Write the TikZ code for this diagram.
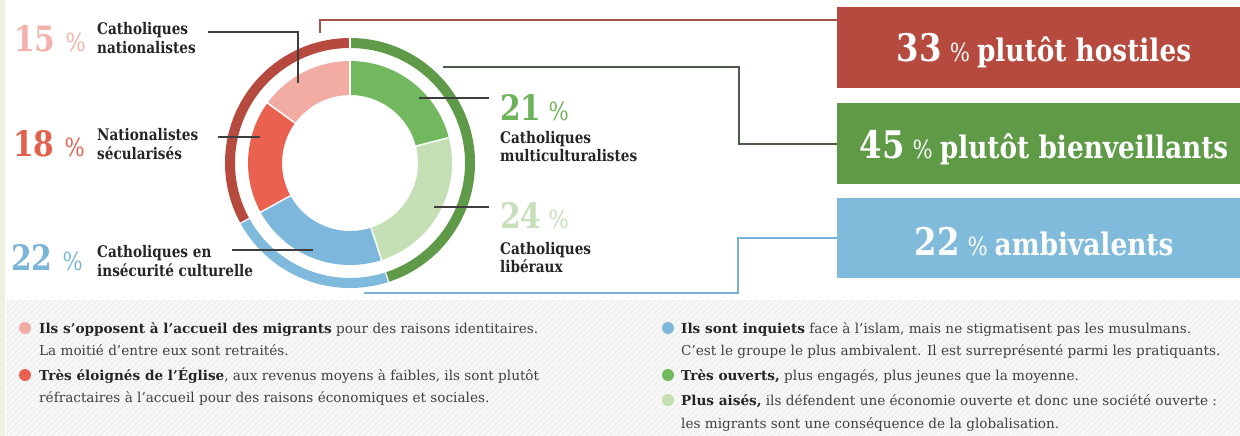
\documentclass[tikz,border=0pt]{standalone}
\usepackage{fontspec}
\setmainfont{DejaVu Serif}[FakeStretch=0.85]
\newfontfamily\rkPlain{DejaVu Serif}
\usetikzlibrary{patterns.meta}
\definecolor{ringRed}{HTML}{B64A3E}
\definecolor{ringGreen}{HTML}{5E9A48}
\definecolor{ringBlue}{HTML}{7FB9DC}
\definecolor{segPink}{HTML}{F3ACA4}
\definecolor{segRed}{HTML}{EA614F}
\definecolor{segGreen}{HTML}{72B85E}
\definecolor{segPale}{HTML}{C4DFB4}
\definecolor{segBlue}{HTML}{7DB7DC}
\definecolor{numPink}{HTML}{F2B2AA}
\definecolor{numRed}{HTML}{E2614E}
\definecolor{numBlue}{HTML}{7AB5DA}
\definecolor{numGreen}{HTML}{6EB25A}
\definecolor{numPale}{HTML}{C7E0B9}
\definecolor{boxRed}{HTML}{B64A3E}
\definecolor{boxGreen}{HTML}{5F9A47}
\definecolor{boxBlue}{HTML}{80BBDC}
\definecolor{ink}{HTML}{252525}
\definecolor{bodyink}{HTML}{404040}
\definecolor{leader}{HTML}{3E3E3E}
\definecolor{connRed}{HTML}{A65248}
\definecolor{connGreen}{HTML}{4C5A48}
\definecolor{connBlue}{HTML}{78B0D6}
\definecolor{cream}{HTML}{EEF0E2}
\newcommand\rkBigNum{\bfseries\fontsize{35}{35}\selectfont}
\newcommand\rkBigPct{\mdseries\fontsize{25}{25}\selectfont}
\newcommand\rkBoxNum{\bfseries\fontsize{38}{38}\selectfont}
\newcommand\rkBoxPct{\mdseries\fontsize{25}{25}\selectfont}
\newcommand\rkBoxWord{\bfseries\fontsize{31}{31}\selectfont}
\newcommand\rkLab{\bfseries\fontsize{16}{18}\selectfont}
\newcommand\rkBody{\rkPlain\fontsize{13.6}{16}\selectfont}
\begin{document}
\begin{tikzpicture}[x=1pt,y=1pt,
  lbl/.style={inner sep=0pt, anchor=base west, font=\rkLab, text=ink},
  txt/.style={inner sep=0pt, anchor=base west, font=\rkBody, text=bodyink},
  pctlabel/.style={inner sep=0pt, anchor=base west},
  leaderline/.style={draw=leader, line width=1.2pt},
  conn/.style={line width=1.6pt},
  bullet/.style={circle, inner sep=0pt, minimum size=12pt},
  banner/.style={inner sep=0pt, minimum width=403pt, minimum height=81pt, anchor=north west},
  bannertext/.style={inner sep=0pt, anchor=base, text=white}]
\useasboundingbox (0,0) rectangle (1240,-436);
\fill[white] (0,0) rectangle (1240,-436);
\fill[black!3] (6,-300) rectangle (1240,-436);
\fill[pattern={Lines[angle=45,distance=4pt,line width=0.9pt]}, pattern color=black!8] (6,-300) rectangle (1240,-436);
\fill[cream] (0,0) rectangle (5,-436);

% donut
\coordinate (C) at (350,-163);
\foreach \a/\b/\c in {90/14.4/segGreen, 14.4/-72/segPale, -72/-151.2/segBlue, -151.2/-216/segRed, -216/-270/segPink}
  \draw[\c, line width=34pt] ([shift={(\a:85)}]C) arc[start angle=\a, end angle=\b, radius=85];
\foreach \a/\b/\c in {90/208.8/ringRed, 208.8/288/ringBlue, 288/450/ringGreen}
  \draw[\c, line width=10pt] ([shift={(\a:120)}]C) arc[start angle=\a, end angle=\b, radius=120];
\foreach \a in {90,14.4,-72,-151.2,-216}
  \draw[white, line width=1.5pt] ([shift={(\a:66)}]C) -- ([shift={(\a:104)}]C);
\foreach \a in {90,208.8,288}
  \draw[white, line width=1.2pt] ([shift={(\a:113)}]C) -- ([shift={(\a:127)}]C);

% banners
\node[banner, fill=boxRed] (hostiles) at (837,-7) {};
\node[banner, fill=boxGreen] (bienv) at (837,-103) {};
\node[banner, minimum height=80pt, fill=boxBlue] (ambiv) at (837,-198) {};
\node[bannertext] (tHost) at (1044,-62) {{\rkBoxNum 33}\hspace{8pt}{\rkBoxPct\%}\hspace{7pt}{\rkBoxWord plutôt hostiles}};
\node[bannertext] (tBien) at (1044,-158) {{\rkBoxNum 45}\hspace{8pt}{\rkBoxPct\%}\hspace{7pt}{\rkBoxWord plutôt bienveillants}};
\node[bannertext] (tAmb) at (1044,-255) {{\rkBoxNum 22}\hspace{8pt}{\rkBoxPct\%}\hspace{7pt}{\rkBoxWord ambivalents}};

% connectors
\coordinate (redStart) at (320,-33);
\coordinate (redCorner) at (320,-20);
\draw[conn, draw=connRed] (redStart) -- (redCorner) -- (redCorner -| hostiles.west);
\coordinate (greenStart) at (443,-67);
\coordinate (greenCorner) at (739,-67);
\draw[conn, draw=connGreen] (greenStart) -- (greenCorner) |- (bienv.west);
\coordinate (blueStart) at (364,-293);
\coordinate (blueCorner) at (738,-293);
\draw[conn, draw=connBlue] (blueStart) -- (blueCorner) |- (ambiv.west);

% leaders
\coordinate (l15a) at (208,-32); \coordinate (l15b) at (298,-83);
\draw[leaderline] (l15a) -| (l15b);
\coordinate (l18a) at (218,-137); \coordinate (l18b) at (260,-137);
\draw[leaderline] (l18a) -- (l18b);
\coordinate (l22a) at (232,-250); \coordinate (l22b) at (313,-250);
\draw[leaderline] (l22a) -- (l22b);
\coordinate (l21a) at (419,-98); \coordinate (l21b) at (489,-98);
\draw[leaderline] (l21a) -- (l21b);
\coordinate (l24a) at (434,-207); \coordinate (l24b) at (489,-207);
\draw[leaderline] (l24a) -- (l24b);

% left labels
\node[pctlabel, text=numPink] (p15) at (14,-52) {{\rkBigNum 15}\hspace{10pt}{\rkBigPct\%}};
\node[lbl] (c15a) at (97,-35) {Catholiques};
\node[lbl] (c15b) at (97,-54) {nationalistes};
\node[pctlabel, text=numRed] (p18) at (13,-156) {{\rkBigNum 18}\hspace{10pt}{\rkBigPct\%}};
\node[lbl] (c18a) at (97,-140) {Nationalistes};
\node[lbl] (c18b) at (97,-159) {sécularisés};
\node[pctlabel, text=numBlue] (p22) at (11,-270) {{\rkBigNum 22}\hspace{10pt}{\rkBigPct\%}};
\node[lbl] (c22a) at (97,-257) {Catholiques en};
\node[lbl] (c22b) at (97,-276) {insécurité culturelle};

% right labels
\node[pctlabel, text=numGreen] (p21) at (500,-120) {{\rkBigNum 21}\hspace{7pt}{\rkBigPct\%}};
\node[lbl] (c21a) at (500,-143) {Catholiques};
\node[lbl] (c21b) at (500,-161) {multiculturalistes};
\node[pctlabel, text=numPale] (p24) at (500,-228) {{\rkBigNum 24}\hspace{7pt}{\rkBigPct\%}};
\node[lbl] (c24a) at (500,-254) {Catholiques};
\node[lbl] (c24b) at (500,-272) {libéraux};

% bottom text, left
\node[bullet, fill=segPink] (b1) at (25,-328) {};
\node[txt] (t1a) at (39,-333) {\textcolor{ink}{\bfseries Ils s’opposent à l’accueil des migrants} pour des raisons identitaires.};
\node[txt] (t1b) at (39,-355) {La moitié d’entre eux sont retraités.};
\node[bullet, fill=segRed] (b2) at (25,-375) {};
\node[txt] (t2a) at (39,-380) {\textcolor{ink}{\bfseries Très éloignés de l’Église}, aux revenus moyens à faibles, ils sont plutôt};
\node[txt] (t2b) at (39,-402) {réfractaires à l’accueil pour des raisons économiques et sociales.};

% bottom text, right
\node[bullet, fill=segBlue] (b3) at (668,-328) {};
\node[txt] (t3a) at (681,-333) {\textcolor{ink}{\bfseries Ils sont inquiets} face à l’islam, mais ne stigmatisent pas les musulmans.};
\node[txt] (t3b) at (681,-355) {C’est le groupe le plus ambivalent. Il est surreprésenté parmi les pratiquants.};
\node[bullet, fill=segGreen] (b4) at (668,-375) {};
\node[txt] (t4) at (681,-380) {\textcolor{ink}{\bfseries Très ouverts,} plus engagés, plus jeunes que la moyenne.};
\node[bullet, fill=segPale] (b5) at (668,-400) {};
\node[txt] (t5a) at (681,-405) {\textcolor{ink}{\bfseries Plus aisés,} ils défendent une économie ouverte et donc une société ouverte :};
\node[txt] (t5b) at (681,-428) {les migrants sont une conséquence de la globalisation.};
\end{tikzpicture}
\end{document}
